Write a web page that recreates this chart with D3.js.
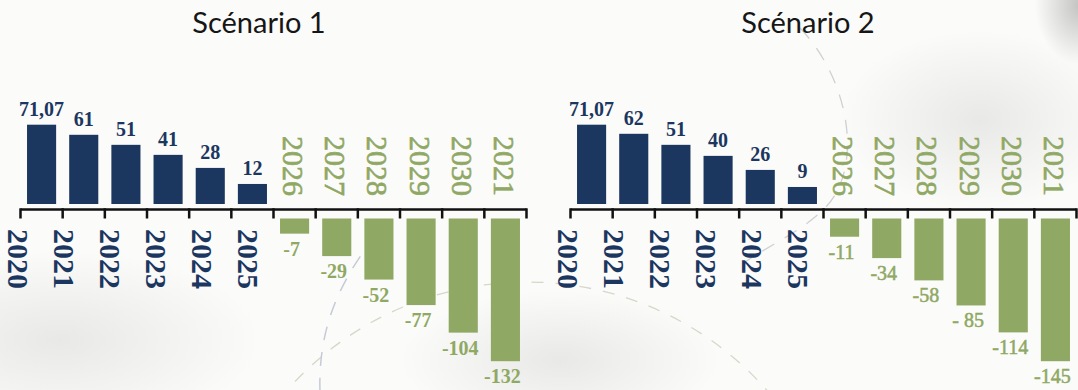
<!DOCTYPE html>
<html>
<head>
<meta charset="utf-8">
<script src="https://cdn.jsdelivr.net/npm/d3@7"></script>
<style>
  html, body { margin: 0; padding: 0; background: #fbfbfa; }
  svg { display: block; }
</style>
</head>
<body>
<svg id="chart" width="1078" height="390"></svg>
<script>
// ---------------- DATA ----------------
const titles = ["Scénario 1", "Scénario 2"];
const pastYears = ["2020", "2021", "2022", "2023", "2024", "2025"];
const futureYears = ["2026", "2027", "2028", "2029", "2030", "2021"];

const s1Positive = [71.07, 61, 51, 41, 28, 12];
const s1Negative = [-7, -29, -52, -77, -104, -132];
const s1PositiveLabels = ["71,07", "61", "51", "41", "28", "12"];
const s1NegativeLabels = ["-7", "-29", "-52", "-77", "-104", "-132"];

const s2Positive = [71.07, 62, 51, 40, 26, 9];
const s2Negative = [-11, -34, -58, -85, -114, -145];
const s2PositiveLabels = ["71,07", "62", "51", "40", "26", "9"];
const s2NegativeLabels = ["-11", "-34", "-58", "- 85", "-114", "-145"];

// ---------------- STYLE / LAYOUT ----------------
const W = 1078, H = 390;
const BLUE = "#1b365f";
const GREEN = "#8fa863";
const serif = "'Liberation Serif', 'Times New Roman', serif";

const svg = d3.select("#chart");

// background decoration
const defs = svg.append("defs");
const g1 = defs.append("radialGradient").attr("id", "smudgeTR").attr("cx", "50%").attr("cy", "50%").attr("r", "50%");
g1.append("stop").attr("offset", "0%").attr("stop-color", "#8a8a8a").attr("stop-opacity", 0.5);
g1.append("stop").attr("offset", "100%").attr("stop-color", "#8a8a8a").attr("stop-opacity", 0);
const g2 = defs.append("radialGradient").attr("id", "smudgeSoft").attr("cx", "50%").attr("cy", "50%").attr("r", "50%");
g2.append("stop").attr("offset", "0%").attr("stop-color", "#d9d9d6").attr("stop-opacity", 0.55);
g2.append("stop").attr("offset", "100%").attr("stop-color", "#d9d9d6").attr("stop-opacity", 0);

svg.append("rect").attr("width", W).attr("height", H).attr("fill", "#fbfbfa");
const deco = svg.append("g").attr("class", "decoration");
deco.append("ellipse").attr("cx", 1080).attr("cy", 5).attr("rx", 45).attr("ry", 60).attr("fill", "url(#smudgeTR)");
deco.append("ellipse").attr("cx", 60).attr("cy", 340).attr("rx", 200).attr("ry", 90).attr("fill", "url(#smudgeSoft)");
deco.append("ellipse").attr("cx", 560).attr("cy", 360).attr("rx", 160).attr("ry", 70).attr("fill", "url(#smudgeSoft)");
deco.append("ellipse").attr("cx", 980).attr("cy", 120).attr("rx", 140).attr("ry", 90).attr("fill", "url(#smudgeSoft)");
deco.append("circle").attr("cx", 527).attr("cy", 602).attr("r", 320)
  .attr("fill", "none").attr("stroke", "#d6d7c8").attr("stroke-width", 1.3).attr("stroke-dasharray", "12 12");
deco.append("path").attr("d", "M320,392 C318,330 338,285 372,240")
  .attr("fill", "none").attr("stroke", "#c5cad6").attr("stroke-width", 1.5).attr("stroke-dasharray", "14 12");
deco.append("path").attr("d", "M800,28 C850,80 865,170 823,210 C800,232 770,245 745,262")
  .attr("fill", "none").attr("stroke", "#cfd0d2").attr("stroke-width", 1.3).attr("stroke-dasharray", "14 12");

// ---------------- CHARTS ----------------
const scenarios = [
  { pos: s1Positive, neg: s1Negative, posL: s1PositiveLabels, negL: s1NegativeLabels, offset: 0, negWeight: "bold" },
  { pos: s2Positive, neg: s2Negative, posL: s2PositiveLabels, negL: s2NegativeLabels, offset: 550, negWeight: "normal" }
];

const allYears = pastYears.map((d, i) => "p" + i).concat(futureYears.map((d, i) => "f" + i));
const axisY = 209.5;
const posBase = 204;
const negTop = 218.5;

scenarios.forEach((s, si) => {
  const g = svg.append("g").attr("transform", `translate(${s.offset},0)`);

  const x = d3.scaleBand().domain(allYears).range([20.5, 526.5]).paddingInner(0.31).paddingOuter(0.155);
  const labelX = d3.scalePoint().domain(pastYears).range([18, 248]);
  const hPos = d3.scaleLinear().domain([0, d3.max(s.pos)]).range([8, 79.3]);
  const hNeg = d3.scaleLinear().domain([0, d3.max(s.neg, d => -d)]).range([8, 142.7]);

  // title
  g.append("text").attr("x", 259 - si * 1).attr("y", 33).attr("text-anchor", "middle")
    .attr("font-family", "Lato, 'Open Sans', sans-serif").attr("font-size", 29).attr("font-weight", 400)
    .attr("fill", "#161616").text(titles[si]);

  const posData = s.pos.map((v, i) => ({ key: "p" + i, v, label: s.posL[i], year: pastYears[i] }));
  const negData = s.neg.map((v, i) => ({ key: "f" + i, v, label: s.negL[i], year: futureYears[i] }));

  // positive bars
  g.selectAll("rect.pos").data(posData).join("rect").attr("class", "pos")
    .attr("x", d => x(d.key)).attr("width", x.bandwidth())
    .attr("y", d => posBase - hPos(d.v)).attr("height", d => hPos(d.v))
    .attr("fill", BLUE);

  g.selectAll("text.posval").data(posData).join("text").attr("class", "posval")
    .attr("x", d => x(d.key) + x.bandwidth() / 2).attr("y", d => posBase - hPos(d.v) - 9)
    .attr("text-anchor", "middle").attr("font-family", serif).attr("font-weight", "bold")
    .attr("font-size", 20).attr("fill", BLUE).text(d => d.label);

  // negative bars
  g.selectAll("rect.neg").data(negData).join("rect").attr("class", "neg")
    .attr("x", d => x(d.key)).attr("width", x.bandwidth())
    .attr("y", negTop).attr("height", d => hNeg(-d.v))
    .attr("fill", GREEN);

  g.selectAll("text.negval").data(negData).join("text").attr("class", "negval")
    .attr("x", d => x(d.key) + x.bandwidth() / 2 - 3).attr("y", d => negTop + hNeg(-d.v) + 22)
    .attr("text-anchor", "middle").attr("font-family", serif).attr("font-weight", s.negWeight)
    .attr("font-size", 20).attr("fill", GREEN)
    .attr("stroke", GREEN).attr("stroke-width", s.negWeight === "normal" ? 0.5 : 0)
    .text(d => d.label);

  // axis line and ticks
  const r = x.range();
  g.append("line").attr("x1", r[0]).attr("x2", r[1]).attr("y1", axisY).attr("y2", axisY)
    .attr("stroke", "#111").attr("stroke-width", 2.5);
  const tickPos = d3.range(allYears.length + 1).map(i => r[0] + i * x.step());
  g.selectAll("line.tick").data(tickPos).join("line").attr("class", "tick")
    .attr("x1", d => d).attr("x2", d => d).attr("y1", axisY - 1.2).attr("y2", 218.5)
    .attr("stroke", "#111").attr("stroke-width", 2.5);

  // year labels (rotated)
  g.selectAll("text.pastyear").data(posData).join("text").attr("class", "pastyear")
    .attr("transform", d => `translate(${labelX(d.year)},229) rotate(90)`)
    .attr("dominant-baseline", "central").attr("text-anchor", "start")
    .attr("font-family", serif).attr("font-weight", "bold").attr("font-size", 30)
    .attr("fill", BLUE).text(d => d.year);

  g.selectAll("text.futyear").data(negData).join("text").attr("class", "futyear")
    .attr("transform", d => `translate(${x(d.key) + x.bandwidth() / 2 - 1},196) rotate(90)`)
    .attr("dominant-baseline", "central").attr("text-anchor", "end")
    .attr("font-family", serif).attr("font-weight", "normal").attr("font-size", 30)
    .attr("fill", GREEN).attr("stroke", GREEN).attr("stroke-width", 0.6)
    .text(d => d.year);
});
</script>
</body>
</html>
